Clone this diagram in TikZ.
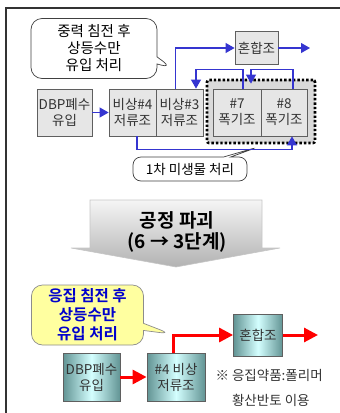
\documentclass[tikz,border=0pt]{standalone}
\usepackage{fontspec}
\setmainfont{Noto Sans CJK KR}[BoldFont={Noto Sans CJK KR Bold}]
\usetikzlibrary{arrows.meta,shapes.callouts}
\definecolor{flowblue}{RGB}{53,53,208}
\definecolor{boxgray}{RGB}{230,230,230}
\definecolor{edgegray}{RGB}{95,95,95}
\definecolor{grpgray}{RGB}{218,218,218}
\definecolor{tealdark}{RGB}{98,148,148}
\definecolor{tealpale}{RGB}{212,255,255}
\definecolor{noteyellow}{RGB}{255,255,160}
\definecolor{notetext}{RGB}{0,0,204}

\begin{document}
\begin{tikzpicture}[x=1pt, y=-1pt,
    >={Triangle[length=9pt,width=10pt]},
    blk/.style={draw=edgegray, fill=boxgray, line width=0.8pt, text=black!80, align=center,
      inner sep=0pt, font=\fontsize{13.5}{16}\selectfont},
    tank/.style={blk, minimum width=47pt, minimum height=47pt},
    tealblk/.style={blk, left color=tealdark, right color=tealdark, middle color=tealpale},
    grp/.style={draw=black, fill=grpgray, line width=2.6pt, dash pattern=on 2.4pt off 2pt,
      rounded corners=2pt, minimum width=108pt, minimum height=63pt},
    talk/.style={rectangle callout, draw=black!75, fill=white, line width=0.7pt, rounded corners=11pt,
      align=center, inner sep=0pt, font=\fontsize{14.5}{17}\selectfont},
    blueflow/.style={draw=flowblue, line width=1.1pt},
    redflow/.style={draw=red, line width=3pt, -{Triangle[length=14pt,width=14pt]}},
  ]
  \useasboundingbox (0,0) rectangle (340,413);
  \draw[black!80, line width=1.4pt] (6,413) -- (6,8) -- (340,8);

  % before: six stages
  \node[talk, minimum width=126pt, minimum height=60pt, callout absolute pointer={(172,68)}]
    (talkA) at (94,48.5) {중력 침전 후\\상등수만\\유입 처리};
  \node[blk, minimum width=43pt, minimum height=33pt] (mix) at (256.5,48) {혼합조};
  \node[blk, minimum width=55pt, minimum height=47pt] (feed) at (64.5,112.5) {DBP폐수\\유입};
  \node[tank] (b4) at (132.5,112.5) {비상\#4\\저류조};
  \node[tank] (b3) at (179.5,112.5) {비상\#3\\저류조};
  \node[grp] (unit) at (261,111.5) {};
  \node[tank, minimum width=48pt] (p7) at (237,112.5) {\#7\\폭기조};
  \node[tank, minimum width=46pt] (p8) at (284,112.5) {\#8\\폭기조};
  \node[talk, minimum width=114pt, minimum height=24pt, rounded corners=8pt,
    font=\fontsize{13.5}{15}\selectfont, callout absolute pointer={(258,147)}]
    (talkB) at (190,169) {1차 미생물 처리};
  \coordinate (mixout) at (310,48);

  \draw[blueflow, ->] (feed.east) -- (b4.west);
  \draw[blueflow, ->] ([xshift=-4]b3.north) |- (mix.west);
  \draw[blueflow, ->] (mix.east) -- (mixout);
  \draw[blueflow, ->] ([xshift=6]p7.north) -- ++(0,-19) -| ([xshift=16.5]b3.north);
  \draw[blueflow, ->] ([xshift=9]p8.north) -- ++(0,-19) -| ([xshift=14,yshift=5]p7.north);
  \draw[blueflow, ->] ([xshift=4.5]b4.south) -- ++(0,13.5) -| ([xshift=8]p8.south);

  % process change
  \shade[top color=gray!8, bottom color=gray!60, draw=gray!45, line width=0.6pt]
    (90,200) -- (262,200) -- (262,248) -- (280,248) -- (176,267) -- (71,248) -- (90,248) -- cycle;
  \node[align=center, font=\fontsize{19}{21}\selectfont\bfseries] (change) at (177,232)
    {공정 파괴\\(6 → 3단계)};

  % after: three stages
  \node[talk, fill=noteyellow, draw=black!45, minimum width=112pt, minimum height=60pt,
    text=notetext, font=\fontsize{15.5}{19}\selectfont\bfseries, callout absolute pointer={(171,334)}]
    (talkC) at (87.5,315) {응집 침전 후\\상등수만\\유입 처리};
  \node[tealblk, minimum width=49pt, minimum height=42pt] (mix2) at (258,335) {혼합조};
  \node[tealblk, minimum width=57pt, minimum height=48pt] (feed2) at (91.5,377) {DBP폐수\\유입};
  \node[tealblk, minimum width=58pt, minimum height=48pt] (b4n) at (176,377) {\#4 비상\\저류조};
  \node[align=left, anchor=west, text=black!80, font=\fontsize{13.5}{25}\selectfont]
    (chem) at (212,387.5) {※ 응집약품:폴리머\\\phantom{※ }황산반토 이용};
  \coordinate (mix2out) at (318,335);

  \draw[redflow] (feed2.east) -- (b4n.west);
  \draw[redflow] ([xshift=-3]b4n.north) |- (mix2.west);
  \draw[redflow] (mix2.east) -- (mix2out);
\end{tikzpicture}
\end{document}
